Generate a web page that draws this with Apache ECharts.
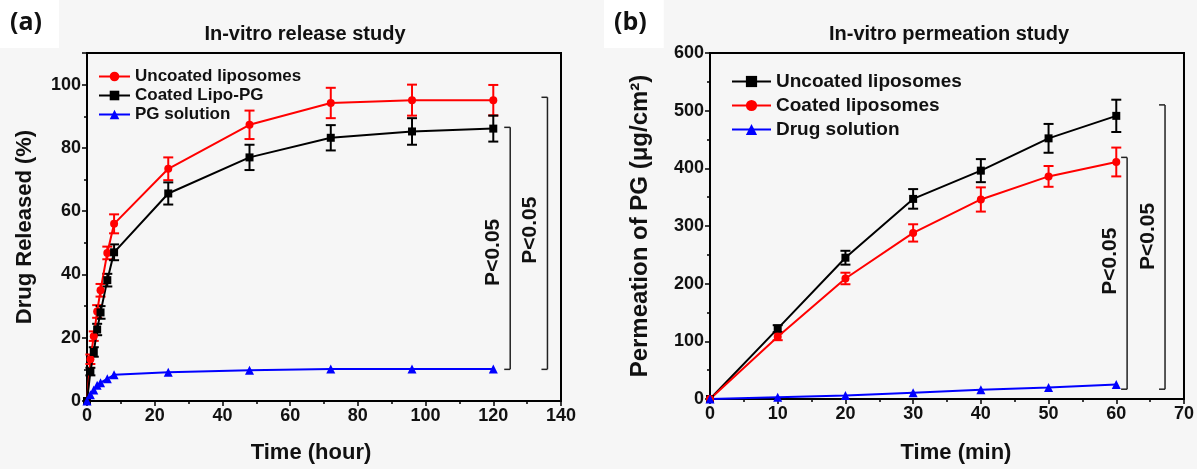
<!DOCTYPE html>
<html>
<head>
  <meta charset="utf-8">
  <title>In-vitro release / permeation</title>
  <script src="https://cdn.jsdelivr.net/npm/echarts@6/dist/echarts.min.js"></script>
  <style type="text/css">
    body {
      margin: 0;
      background: #f6f6f6;
    }

    #chart {
      width: 1197px;
      height: 469px;
    }
  </style>
</head>

<body>
<div id="chart"></div>
<script>
  // (a) release study, time in hours
  var releaseTime = [0, 1, 2, 3, 4, 6, 8, 24, 48, 72, 96, 120];
  var releaseUncoated = [0, 13.2, 20.5, 28.3, 35, 46.8, 56, 73.4, 87.3, 94.2, 95.1, 95.1];
  var releaseUncoatedErr = [0, 1.5, 1.5, 2, 2, 2, 3, 3.6, 4.5, 4.8, 4.9, 4.8];
  var releaseCoated = [0, 9.3, 15.5, 22.6, 28, 38.2, 47, 65.6, 77, 83.2, 85.2, 86.1];
  var releaseCoatedErr = [0, 1.2, 1.5, 1.8, 2, 2, 2.5, 3.5, 4, 4, 4.2, 4.1];
  var releaseSolution = [0, 2, 3.5, 5, 5.8, 7, 8.3, 9.1, 9.7, 10.1, 10.1, 10.1];

  // (b) permeation study, time in minutes
  var permTime = [0, 10, 20, 30, 40, 50, 60];
  var permUncoated = [0, 122, 245, 347, 396, 452, 491];
  var permUncoatedErr = [0, 6, 12, 17, 20, 25, 28];
  var permCoated = [0, 108, 209, 288, 346, 386, 411];
  var permCoatedErr = [0, 6, 10, 15, 21, 18, 25];
  var permSolution = [0, 3, 6, 11, 16, 20, 25];

  // significance brackets: [x, yLow, yHigh, textY]
  var releaseBrackets = [[125, 10, 86.5, 47], [136, 10, 96, 54]];
  var permBrackets = [[61.6, 17, 419, 239], [67.2, 17, 510, 282]];

  var FONT = "'Liberation Sans', Arial, sans-serif";

  // 拼 [x, y] 数据
  function pairs(xs, ys) {
    var out = [];
    for (var i = 0; i < xs.length; i++) out.push([xs[i], ys[i]]);
    return out;
  }
  // 误差棒数据 [x, low, high]
  function errRows(xs, ys, es) {
    var out = [];
    for (var i = 0; i < xs.length; i++) {
      if (es[i] > 0) out.push([xs[i], ys[i] - es[i], ys[i] + es[i]]);
    }
    return out;
  }

  function renderErrorBar(params, api) {
    var x = api.value(0);
    var lo = api.coord([x, api.value(1)]);
    var hi = api.coord([x, api.value(2)]);
    var hw = 5;
    var style = {stroke: api.visual('color'), lineWidth: 2};
    return {
      type: 'group',
      children: [
        {type: 'line', shape: {x1: lo[0], y1: lo[1], x2: hi[0], y2: hi[1]}, style: style},
        {type: 'line', shape: {x1: lo[0] - hw, y1: lo[1], x2: lo[0] + hw, y2: lo[1]}, style: style},
        {type: 'line', shape: {x1: hi[0] - hw, y1: hi[1], x2: hi[0] + hw, y2: hi[1]}, style: style}
      ]
    };
  }

  function renderBracket(params, api) {
    var x = api.value(0);
    var lo = api.coord([x, api.value(1)]);
    var hi = api.coord([x, api.value(2)]);
    var tp = api.coord([x, api.value(3)]);
    var style = {stroke: '#222', lineWidth: 1.5};
    return {
      type: 'group',
      children: [
        {type: 'line', shape: {x1: lo[0], y1: lo[1], x2: hi[0], y2: hi[1]}, style: style},
        {type: 'line', shape: {x1: lo[0] - 6, y1: lo[1], x2: lo[0], y2: lo[1]}, style: style},
        {type: 'line', shape: {x1: hi[0] - 6, y1: hi[1], x2: hi[0], y2: hi[1]}, style: style},
        {
          type: 'text', x: tp[0] - 17, y: tp[1], rotation: Math.PI / 2,
          style: {
            text: 'P<0.05', fill: '#111', font: 'bold 21px ' + FONT,
            align: 'center', verticalAlign: 'middle'
          }
        }
      ]
    };
  }

  function errSeries(idx, color, rows) {
    return {
      type: 'custom', xAxisIndex: idx, yAxisIndex: idx,
      renderItem: renderErrorBar, itemStyle: {color: color},
      encode: {x: 0, y: [1, 2]}, data: rows, z: 3, silent: true
    };
  }

  function lineSeries(idx, name, color, symbol, xs, ys) {
    return {
      type: 'line', name: name, xAxisIndex: idx, yAxisIndex: idx,
      data: pairs(xs, ys), symbol: symbol, symbolSize: symbol === 'triangle' ? 9 : 8,
      lineStyle: {color: color, width: 2}, itemStyle: {color: color},
      z: 4, silent: true, animation: false
    };
  }

  function tickLabel(extra) {
    var l = {color: '#111', fontWeight: 'bold', fontSize: 18, fontFamily: FONT, margin: 6};
    for (var k in extra) l[k] = extra[k];
    return l;
  }
  function axisName(size, pad) {
    return {color: '#111', fontWeight: 'bold', fontSize: size, fontFamily: FONT, padding: pad};
  }

  function valueAxis(idx, min, max, interval, name, gap, nameStyle, label) {
    return {
      type: 'value', gridIndex: idx, min: min, max: max, interval: interval,
      name: name, nameLocation: 'middle', nameGap: gap, nameTextStyle: nameStyle,
      axisLine: {show: true, lineStyle: {color: '#000', width: 2}},
      axisTick: {show: true, inside: false, length: 5, lineStyle: {color: '#000', width: 1.5}},
      minorTick: {show: true, splitNumber: 2, length: 3, lineStyle: {color: '#000', width: 1.5}},
      axisLabel: label,
      splitLine: {show: false}
    };
  }

  var chart = echarts.init(document.getElementById('chart'));
  var option = {
    backgroundColor: '#f6f6f6',
    animation: false,
    title: [
      {text: '(a)', left: 0, top: 0, padding: [10, 17, 13, 10], backgroundColor: '#fff',
        textStyle: {fontSize: 25, fontWeight: 'bold', fontFamily: "'Open Sans', sans-serif", color: '#111'}},
      {text: '(b)', left: 604, top: 0, padding: [10, 17, 13, 10], backgroundColor: '#fff',
        textStyle: {fontSize: 25, fontWeight: 'bold', fontFamily: "'Open Sans', sans-serif", color: '#111'}},
      {text: 'In-vitro release study', left: 300, top: 19, textAlign: 'center',
        textStyle: {fontSize: 20, fontWeight: 'bold', fontFamily: FONT, color: '#111'}},
      {text: 'In-vitro permeation study', left: 944, top: 19, textAlign: 'center',
        textStyle: {fontSize: 20, fontWeight: 'bold', fontFamily: FONT, color: '#111'}}
    ],
    legend: [
      {
        orient: 'vertical', left: 93, top: 63, itemWidth: 31, itemHeight: 12, itemGap: 2,
        data: ['a|Uncoated liposomes', 'a|Coated Lipo-PG', 'a|PG solution'],
        formatter: function (n) { return n.split('|')[1]; },
        textStyle: {fontSize: 17, fontWeight: 'bold', fontFamily: FONT, color: '#111'},
        selectedMode: false
      },
      {
        orient: 'vertical', left: 726, top: 67, itemWidth: 39, itemHeight: 14, itemGap: 5,
        data: ['b|Uncoated liposomes', 'b|Coated liposomes', 'b|Drug solution'],
        formatter: function (n) { return n.split('|')[1]; },
        textStyle: {fontSize: 19, fontWeight: 'bold', fontFamily: FONT, color: '#111'},
        selectedMode: false
      }
    ],
    grid: [
      {left: 87, top: 53, width: 474, height: 352, show: true, borderColor: '#000', borderWidth: 2,
        backgroundColor: 'transparent'},
      {left: 710, top: 53, width: 476, height: 347, show: true, borderColor: '#000', borderWidth: 2,
        backgroundColor: 'transparent'}
    ],
    xAxis: [
      valueAxis(0, 0, 140, 20, 'Time (hour)', 41, axisName(22, [0, 26, 0, 0]), tickLabel({})),
      valueAxis(1, 0, 70, 10, 'Time (min)', 43, axisName(22, [0, 0, 0, 18]), tickLabel({}))
    ],
    yAxis: [
      valueAxis(0, 0, 110, 20, 'Drug Released (%)', 51, axisName(22, 0), tickLabel({showMaxLabel: false})),
      valueAxis(1, 0, 600, 100, 'Permeation of PG (\u03bcg/cm\u00b2)', 58, axisName(24, 0), tickLabel({}))
    ],
    series: [
      errSeries(0, '#ff0000', errRows(releaseTime, releaseUncoated, releaseUncoatedErr)),
      errSeries(0, '#000000', errRows(releaseTime, releaseCoated, releaseCoatedErr)),
      lineSeries(0, 'a|Uncoated liposomes', '#ff0000', 'circle', releaseTime, releaseUncoated),
      lineSeries(0, 'a|Coated Lipo-PG', '#000000', 'rect', releaseTime, releaseCoated),
      lineSeries(0, 'a|PG solution', '#0000ff', 'triangle', releaseTime, releaseSolution),
      {type: 'custom', xAxisIndex: 0, yAxisIndex: 0, renderItem: renderBracket,
        encode: {x: 0, y: [1, 2]}, data: releaseBrackets, silent: true},

      errSeries(1, '#000000', errRows(permTime, permUncoated, permUncoatedErr)),
      errSeries(1, '#ff0000', errRows(permTime, permCoated, permCoatedErr)),
      lineSeries(1, 'b|Uncoated liposomes', '#000000', 'rect', permTime, permUncoated),
      lineSeries(1, 'b|Coated liposomes', '#ff0000', 'circle', permTime, permCoated),
      lineSeries(1, 'b|Drug solution', '#0000ff', 'triangle', permTime, permSolution),
      {type: 'custom', xAxisIndex: 1, yAxisIndex: 1, renderItem: renderBracket,
        encode: {x: 0, y: [1, 2]}, data: permBrackets, silent: true}
    ]
  };
  chart.setOption(option);
</script>
</body>
</html>
